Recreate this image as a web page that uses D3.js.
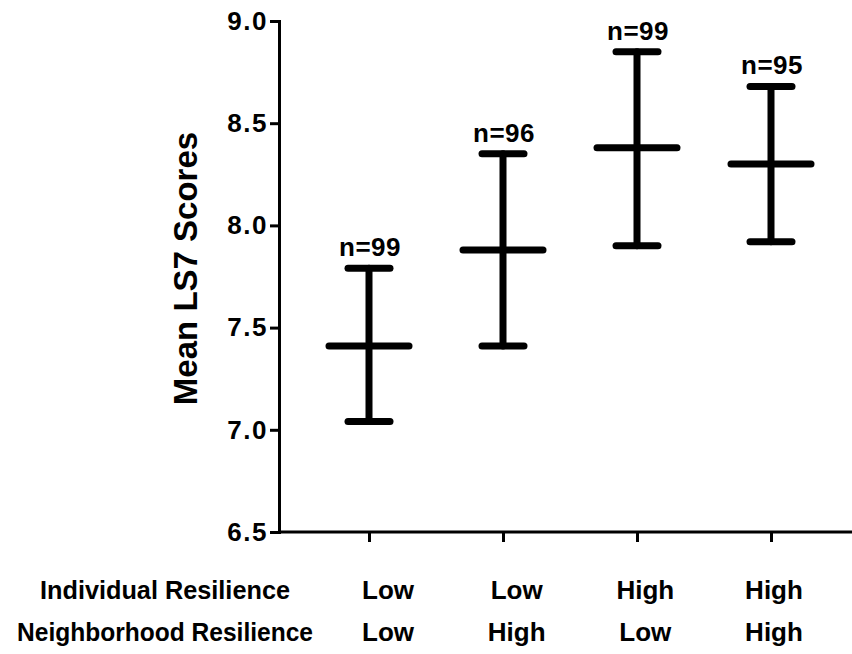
<!DOCTYPE html>
<html>
<head>
<meta charset="utf-8">
<script src="https://cdn.jsdelivr.net/npm/d3@7"></script>
<style>
  body { margin: 0; background: #fff; }
  svg { display: block; font-family: 'Liberation Sans', Arial, Helvetica, sans-serif; font-weight: bold; }
</style>
</head>
<body>
<div id="chart"></div>
<script>
const groups = ['LL', 'LH', 'HL', 'HH'];
const individual = ['Low', 'Low', 'High', 'High'];
const neighborhood = ['Low', 'High', 'Low', 'High'];
const means = [7.41, 7.88, 8.38, 8.30];
const upper = [7.79, 8.35, 8.85, 8.68];
const lower = [7.04, 7.41, 7.90, 7.92];
const counts = [99, 96, 99, 95];
const yTicks = [6.5, 7.0, 7.5, 8.0, 8.5, 9.0];
const rowLabels = ['Individual Resilience', 'Neighborhood Resilience'];

const width = 852,
      height = 654,
      margin = { top: 21, right: 0, bottom: 122, left: 279 };

const svg = d3.select('#chart')
              .append('svg')
              .attr('width', width)
              .attr('height', height);

const x = d3.scalePoint()
            .domain(groups)
            .range([margin.left + 90, width - 81]);

const y = d3.scaleLinear()
            .domain([6.5, 9.0])
            .range([height - margin.bottom, margin.top]);

// axes
const yAxis = svg.append('g')
                 .attr('transform', 'translate(' + margin.left + ',0)')
                 .call(d3.axisLeft(y).tickValues(yTicks).tickFormat(d3.format('.1f')).tickSize(9).tickPadding(2));

const xAxis = svg.append('g')
                 .attr('transform', 'translate(0,' + y(6.5) + ')')
                 .call(d3.axisBottom(x).tickSize(10).tickFormat(''));

xAxis.select('.domain').attr('d', 'M' + margin.left + ',0H' + width);

[yAxis, xAxis].forEach(g => {
  g.select('.domain').attr('stroke', '#000').attr('stroke-width', 3);
  g.selectAll('.tick line').attr('stroke', '#000').attr('stroke-width', 3);
});

yAxis.selectAll('.tick text')
     .attr('fill', '#000')
     .attr('font-size', 26)
     .attr('font-family', "'Liberation Sans', Arial, sans-serif")
     .attr('font-weight', 'bold')
     .attr('letter-spacing', 1.5);

svg.append('text')
   .attr('transform', 'translate(197,' + ((y(6.5) + y(9.0)) / 2 - 8) + ') rotate(-90)')
   .attr('text-anchor', 'middle')
   .attr('font-size', 33)
   .text('Mean LS7 Scores');

// error bars
const data = groups.map((g, i) => ({ g, mean: means[i], hi: upper[i], lo: lower[i], n: counts[i] }));

const bars = svg.selectAll('g.bar')
                .data(data)
                .enter()
                .append('g')
                .attr('class', 'bar')
                .attr('stroke', '#000')
                .attr('stroke-width', 7)
                .attr('stroke-linecap', 'round');

bars.append('line')
    .attr('x1', d => x(d.g)).attr('x2', d => x(d.g))
    .attr('y1', d => y(d.hi)).attr('y2', d => y(d.lo));

bars.append('line')
    .attr('x1', d => x(d.g) - 40).attr('x2', d => x(d.g) + 40)
    .attr('y1', d => y(d.mean)).attr('y2', d => y(d.mean));

bars.selectAll('line.cap')
    .data(d => [{ g: d.g, v: d.hi }, { g: d.g, v: d.lo }])
    .enter()
    .append('line')
    .attr('class', 'cap')
    .attr('x1', d => x(d.g) - 21).attr('x2', d => x(d.g) + 21)
    .attr('y1', d => y(d.v)).attr('y2', d => y(d.v));

svg.selectAll('text.n')
   .data(data)
   .enter()
   .append('text')
   .attr('class', 'n')
   .attr('x', d => x(d.g) + 1)
   .attr('y', d => y(d.hi) - 12)
   .attr('text-anchor', 'middle')
   .attr('font-size', 26)
   .attr('letter-spacing', 0.5)
   .text(d => 'n=' + d.n);

// table below the axis
const col = d3.scalePoint()
              .domain(groups)
              .range([x(groups[0]) + 19, x(groups[3]) + 3]);

const rowY = [599, 641];

svg.selectAll('text.row')
   .data(rowLabels)
   .enter()
   .append('text')
   .attr('class', 'row')
   .attr('x', 165)
   .attr('y', (d, i) => rowY[i])
   .attr('text-anchor', 'middle')
   .attr('font-size', 26)
   .attr('textLength', (d, i) => i ? 296 : 250)
   .attr('lengthAdjust', 'spacingAndGlyphs')
   .text(d => d);

[individual, neighborhood].forEach((row, r) => {
  svg.selectAll('text.cell' + r)
     .data(row)
     .enter()
     .append('text')
     .attr('class', 'cell' + r)
     .attr('x', (d, i) => col(groups[i]))
     .attr('y', rowY[r])
     .attr('text-anchor', 'middle')
     .attr('font-size', 26)
     .text(d => d);
});
</script>
</body>
</html>
